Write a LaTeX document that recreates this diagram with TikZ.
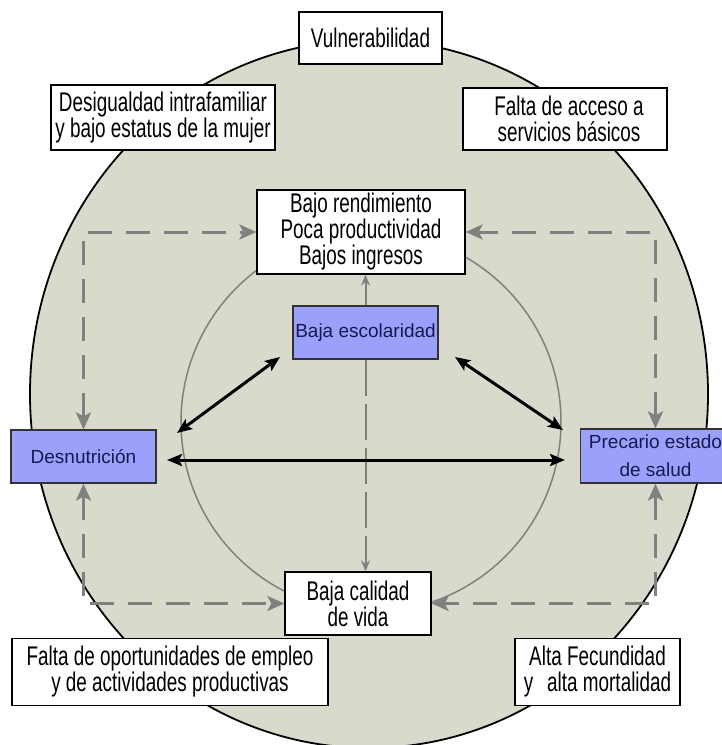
\documentclass[tikz,border=0pt]{standalone}
\usepackage{fontspec}
\setmainfont{Liberation Sans}
\newfontfamily\narrowfont{Liberation Sans}[FakeStretch=0.7]
\usetikzlibrary{arrows.meta}
\definecolor{bgfill}{RGB}{217,217,204}
\definecolor{bluefill}{RGB}{155,160,250}
\definecolor{navytext}{RGB}{25,25,80}
\definecolor{dgray}{RGB}{128,128,128}
\begin{document}
\begin{tikzpicture}[x=1pt,y=-1pt,
  wbox/.style={draw=black, line width=1.2pt, fill=white, font=\narrowfont\fontsize{27}{26}\selectfont, align=center, inner sep=0pt},
  bbox/.style={draw=black!80, line width=1.2pt, fill=bluefill, text=navytext, font=\fontsize{19}{28}\selectfont, align=center, inner sep=0pt},
  gtip/.tip={Stealth[length=17pt,width=15pt,inset=4pt]},
  btip/.tip={Stealth[length=15pt,width=12pt,inset=3pt]},
  gdash/.style={draw=dgray, line width=3pt, dash pattern=on 24pt off 14pt, gtip-gtip},
  blk/.style={draw=black, line width=3pt, btip-btip},
  thin/.style={draw=dgray, line width=2pt, -{Stealth[length=11pt,width=9pt]}},
  thindash/.style={draw=dgray, line width=2pt, dash pattern=on 36pt off 8pt, -{Stealth[length=11pt,width=9pt]}}
]
\useasboundingbox (0,0) rectangle (721,745);
\fill[white] (0,0) rectangle (721,745);
% outer circle and inner circle
\draw[black, line width=1.8pt, fill=bgfill] (369,394) ellipse [x radius=339pt, y radius=354pt];
\draw[dgray, line width=1.5pt] (371,422) circle [radius=190pt];

% nodes
\node[wbox, minimum width=143pt, minimum height=52pt] (vul) at (370.5,38) {Vulnerabilidad};
\node[wbox, minimum width=224pt, minimum height=65pt] (des) at (163,117.5) {Desigualdad intrafamiliar\\y bajo estatus de la mujer};
\node[wbox, minimum width=204pt, minimum height=62pt] (acc) at (565,119) {\hspace{8pt}Falta de acceso a\\\hspace{8pt}servicios básicos};
\node[wbox, minimum width=208pt, minimum height=84pt] (bajo) at (361,232) {Bajo rendimiento\\Poca productividad\\Bajos ingresos};
\node[bbox, minimum width=145pt, minimum height=53pt] (esc) at (365.5,332.5) {Baja escolaridad};
\node[bbox, minimum width=145pt, minimum height=53pt] (nut) at (83.5,456.5) {Desnutrición};
\node[bbox, minimum width=150pt, minimum height=54pt] (sal) at (655.5,456) {Precario estado\\de salud};
\node[wbox, minimum width=146pt, minimum height=63pt] (cal) at (358,603.5) {Baja calidad\\de vida};
\node[wbox, minimum width=316pt, minimum height=67pt] (emp) at (170,672) {Falta de oportunidades de empleo\\y de actividades productivas};
\node[wbox, minimum width=165pt, minimum height=67pt] (fec) at (597.5,672) {Alta Fecundidad\\y\hspace{14pt}alta mortalidad};

% dashed gray loops
\draw[gdash] (nut.north) |- (bajo.west);
\draw[gdash] (sal.north) |- (bajo.east);
\draw[gdash] (nut.south) |- (cal.west);
\draw[gdash] (sal.south) |- (cal.east);

% vertical connectors
\draw[thin] (esc.north) -- (esc.north |- bajo.south);
\draw[thindash] (esc.south) -- (esc.south |- cal.north);

% black double arrows
\coordinate (escL) at (280,357);
\coordinate (nutR) at (177,433);
\coordinate (escR) at (455,357);
\coordinate (salL) at (563,430);
\coordinate (hL) at (167,460);
\coordinate (hR) at (565,460);
\draw[blk] (escL) -- (nutR);
\draw[blk] (escR) -- (salL);
\draw[blk] (hL) -- (hR);
\end{tikzpicture}
\end{document}
